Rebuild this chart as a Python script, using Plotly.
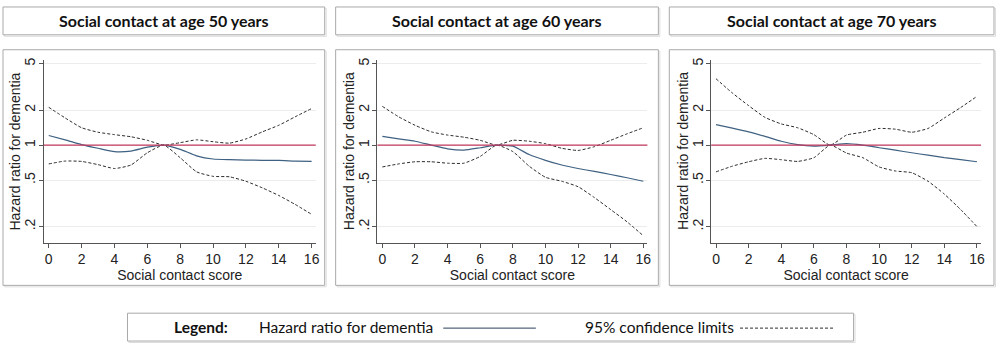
import plotly.graph_objects as go

score = list(range(0, 17))

hr_50 = [1.21, 1.11, 1.01, 0.94, 0.88, 0.89, 0.96, 1.00, 0.92, 0.81, 0.76, 0.75, 0.745, 0.74, 0.74, 0.73, 0.725]
up_50 = [2.11, 1.71, 1.41, 1.29, 1.23, 1.18, 1.10, 1.00, 1.05, 1.11, 1.07, 1.04, 1.13, 1.30, 1.48, 1.75, 2.06]
lo_50 = [0.69, 0.73, 0.725, 0.68, 0.63, 0.675, 0.86, 1.00, 0.78, 0.59, 0.54, 0.535, 0.49, 0.43, 0.37, 0.31, 0.255]

hr_60 = [1.19, 1.13, 1.08, 1.00, 0.93, 0.906, 0.95, 1.00, 0.98, 0.83, 0.74, 0.675, 0.63, 0.595, 0.56, 0.525, 0.49]
up_60 = [2.15, 1.75, 1.48, 1.30, 1.22, 1.17, 1.10, 1.00, 1.10, 1.08, 1.03, 0.94, 0.90, 0.97, 1.10, 1.25, 1.41]
lo_60 = [0.65, 0.69, 0.72, 0.72, 0.70, 0.70, 0.80, 1.00, 0.88, 0.66, 0.53, 0.49, 0.44, 0.355, 0.28, 0.22, 0.167]

hr_70 = [1.50, 1.40, 1.30, 1.19, 1.08, 1.01, 0.98, 1.00, 1.03, 1.00, 0.95, 0.905, 0.86, 0.82, 0.78, 0.75, 0.72]
up_70 = [3.71, 2.80, 2.18, 1.73, 1.52, 1.41, 1.23, 1.00, 1.22, 1.29, 1.39, 1.37, 1.29, 1.39, 1.71, 2.10, 2.62]
lo_70 = [0.59, 0.66, 0.72, 0.77, 0.75, 0.725, 0.78, 1.00, 0.855, 0.78, 0.65, 0.60, 0.58, 0.49, 0.38, 0.28, 0.20]

panel_titles = ["Social contact at age 50 years", "Social contact at age 60 years", "Social contact at age 70 years"]
x_ticks = [0, 2, 4, 6, 8, 10, 12, 14, 16]
y_tickvals = [0.2, 0.5, 1, 2, 5]
y_ticktext = [".2", ".5", "1", "2", "5"]
x_title = "Social contact score"
y_title = "Hazard ratio for dementia"
legend_label_hr = "Hazard ratio for dementia"
legend_label_ci = "95% confidence limits"

series = [(hr_50, up_50, lo_50), (hr_60, up_60, lo_60), (hr_70, up_70, lo_70)]

W, H = 1000, 347
def px(x):
    return x / W
def py(y):
    return 1 - y / H

HR_COLOR = "#3f6182"
CI_COLOR = "#2b2b2b"
REF_COLOR = "#c4385e"
FRAME = "#a9a9a9"
SHADOW = "#dddddd"
AX_FONT = "Liberation Sans"
TITLE_FONT = "Lato"

# plot-area pixel positions (left, right) per panel
x_dom_px = [(44, 317), (379, 650), (714, 985)]
frame_px = [(3, 326), (337, 661), (672, 998)]
y_dom = [py(242), py(58)]

fig = go.Figure()
shapes = []
annotations = []

for i, (hr, up, lo) in enumerate(series):
    n = "" if i == 0 else str(i + 1)
    xa, ya = "x" + n, "y" + n
    for s in (up, lo):
        fig.add_trace(go.Scatter(x=score, y=s, mode="lines", xaxis=xa, yaxis=ya,
                                 line=dict(color=CI_COLOR, width=1, dash="3px,2px", shape="spline", smoothing=0.5),
                                 showlegend=False, hoverinfo="skip"))
    fig.add_trace(go.Scatter(x=score, y=hr, mode="lines", xaxis=xa, yaxis=ya,
                             line=dict(color=HR_COLOR, width=1.2, shape="spline", smoothing=0.5),
                             showlegend=False))
    l, r = x_dom_px[i]
    axis_common = dict(showline=True, linecolor="#555", linewidth=1, ticks="outside", ticklen=4,
                       tickcolor="#555", zeroline=False, tickfont=dict(family=AX_FONT, size=14, color="#222"),
                       title_font=dict(family=AX_FONT, size=14, color="#222"))
    fig.layout["xaxis" + n] = dict(domain=[px(l), px(r)], anchor=ya, range=[-0.3, 16.25],
                                   tickvals=x_ticks, showgrid=False, title=dict(text=x_title, standoff=3),
                                   **axis_common)
    fig.layout["yaxis" + n] = dict(domain=y_dom, anchor=xa, type="log", range=[-0.836, 0.733],
                                   tickvals=y_tickvals, ticktext=y_ticktext, tickangle=-90,
                                   showgrid=True, gridcolor="#ececec", gridwidth=1,
                                   ticklabelstandoff=-2, **axis_common)
    # y-axis title placed as rotated text
    annotations.append(dict(text=y_title, xref="paper", yref="paper", x=px(l - 28.5), y=(y_dom[0] + y_dom[1]) / 2,
                            textangle=-90, showarrow=False, xanchor="center", yanchor="middle",
                            font=dict(family=AX_FONT, size=14, color="#222")))
    # reference line at HR = 1
    shapes.append(dict(type="line", xref=xa + " domain", yref=ya, x0=0, x1=1, y0=1, y1=1,
                       line=dict(color=REF_COLOR, width=1.3), layer="above"))
    # frames with a faint shadow
    fl, fr = frame_px[i]
    for (t, b) in ((5, 33), (48, 285)):
        shapes.append(dict(type="rect", xref="paper", yref="paper", x0=px(fl + 1.5), x1=px(fr + 1.5),
                           y0=py(b + 1.5), y1=py(t + 1.5), line=dict(color=SHADOW, width=1), layer="below"))
        shapes.append(dict(type="rect", xref="paper", yref="paper", x0=px(fl), x1=px(fr), y0=py(b), y1=py(t),
                           line=dict(color=FRAME, width=1), fillcolor="white", layer="below"))
    annotations.append(dict(text="<b>" + panel_titles[i] + "</b>", xref="paper", yref="paper",
                            x=px((fl + fr) / 2), y=py(19), showarrow=False, xanchor="center", yanchor="middle",
                            font=dict(family=TITLE_FONT, size=16, color="#111")))

# legend box
shapes.append(dict(type="rect", xref="paper", yref="paper", x0=px(129.5), x1=px(858.5), y0=py(342.5), y1=py(314.5),
                   line=dict(color=SHADOW, width=1), layer="below"))
shapes.append(dict(type="rect", xref="paper", yref="paper", x0=px(128), x1=px(857), y0=py(341), y1=py(313),
                   line=dict(color=FRAME, width=1), fillcolor="white", layer="below"))
shapes.append(dict(type="line", xref="paper", yref="paper", x0=px(445), x1=px(538), y0=py(328), y1=py(328),
                   line=dict(color="#2a3f5a", width=1)))
shapes.append(dict(type="line", xref="paper", yref="paper", x0=px(743), x1=px(838), y0=py(328), y1=py(328),
                   line=dict(color=CI_COLOR, width=1, dash="3px,2px")))
annotations.append(dict(text="<b>Legend:</b>", xref="paper", yref="paper", x=px(173), y=py(327),
                        xanchor="left", yanchor="middle", showarrow=False,
                        font=dict(family=TITLE_FONT, size=15.5, color="#111")))
annotations.append(dict(text=legend_label_hr, xref="paper", yref="paper", x=px(258), y=py(327),
                        xanchor="left", yanchor="middle", showarrow=False,
                        font=dict(family=TITLE_FONT, size=15.5, color="#111")))
annotations.append(dict(text=legend_label_ci, xref="paper", yref="paper", x=px(585), y=py(327),
                        xanchor="left", yanchor="middle", showarrow=False,
                        font=dict(family=TITLE_FONT, size=15.5, color="#111")))

fig.update_layout(width=W, height=H, margin=dict(l=0, r=0, t=0, b=0),
                  paper_bgcolor="white", plot_bgcolor="white",
                  shapes=shapes, annotations=annotations, showlegend=False)

fig.write_html("out.html")
